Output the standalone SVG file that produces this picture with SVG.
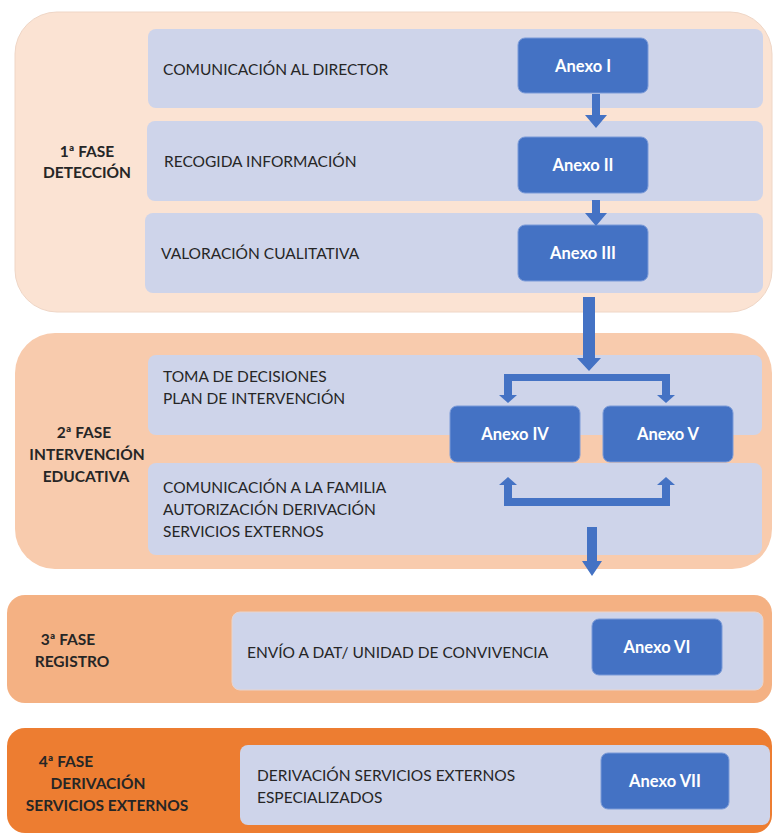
<svg xmlns="http://www.w3.org/2000/svg" width="774" height="833" viewBox="0 0 774 833">
<style>
.bar{fill:#CED4EA;}
.anx{fill:#4472C4;stroke:#7A9AD8;stroke-width:1;}
.anxt{font-family:Lato,"Liberation Sans",sans-serif;font-weight:bold;font-size:16.5px;fill:#FFFFFF;text-anchor:middle;}
.rowt{font-family:Lato,"Liberation Sans",sans-serif;font-size:15.5px;fill:#262626;}
.phase{font-family:Lato,"Liberation Sans",sans-serif;font-weight:bold;font-size:15.5px;fill:#262626;text-anchor:middle;}
.arr{fill:#4472C4;}
</style>
<rect width="774" height="833" fill="#FFFFFF"/>
<g id="phase1">
<rect x="15" y="12" width="757" height="300" rx="42" fill="#FBE3D3" stroke="#EFD6C6" stroke-width="1"/>
<text class="phase" x="87" y="157">1ª FASE</text>
<text class="phase" x="87" y="178">DETECCIÓN</text>
</g>
<g id="row1"><rect class="bar" x="148" y="29" width="615" height="79" rx="8"/><text class="rowt" x="163" y="75">COMUNICACIÓN AL DIRECTOR</text></g>
<g id="row2"><rect class="bar" x="147" y="121" width="616" height="80" rx="8"/><text class="rowt" x="164" y="167">RECOGIDA INFORMACIÓN</text></g>
<g id="row3"><rect class="bar" x="145" y="213" width="618" height="80" rx="8"/><text class="rowt" x="161" y="259">VALORACIÓN CUALITATIVA</text></g>
<g id="anexo1"><rect class="anx" x="518" y="38" width="130" height="55" rx="7"/><text class="anxt" x="583" y="72">Anexo I</text></g>
<g id="anexo2"><rect class="anx" x="518" y="137" width="130" height="56" rx="7"/><text class="anxt" x="583" y="171">Anexo II</text></g>
<g id="anexo3"><rect class="anx" x="518" y="225" width="130" height="56" rx="7"/><text class="anxt" x="583" y="259">Anexo III</text></g>

<g id="phase2">
<rect x="15" y="333" width="757" height="236" rx="40" fill="#F8CBAD"/>
<text class="phase" x="84" y="438">2ª FASE</text>
<text class="phase" x="87" y="460">INTERVENCIÓN</text>
<text class="phase" x="86" y="482">EDUCATIVA</text>
</g>
<g id="row4"><rect class="bar" x="148" y="355" width="614" height="80" rx="8"/>
<text class="rowt" x="163" y="382">TOMA DE DECISIONES</text><text class="rowt" x="163" y="404">PLAN DE INTERVENCIÓN</text></g>
<g id="row5"><rect class="bar" x="148" y="463" width="614" height="92" rx="8"/>
<text class="rowt" x="163" y="493">COMUNICACIÓN A LA FAMILIA</text><text class="rowt" x="163" y="515">AUTORIZACIÓN DERIVACIÓN</text><text class="rowt" x="163" y="537">SERVICIOS EXTERNOS</text></g>
<g id="anexo4"><rect class="anx" x="450" y="406" width="130" height="56" rx="7"/><text class="anxt" x="515" y="440">Anexo IV</text></g>
<g id="anexo5"><rect class="anx" x="603" y="406" width="130" height="56" rx="7"/><text class="anxt" x="668" y="440">Anexo V</text></g>

<g id="phase3">
<rect x="7" y="595" width="765" height="108" rx="18" fill="#F4B183"/>
<text class="phase" x="68" y="645">3ª FASE</text>
<text class="phase" x="72" y="667">REGISTRO</text>
</g>
<g id="row6"><rect class="bar" x="232" y="612" width="531" height="78" rx="8" stroke="#E9D4CC" stroke-width="1"/>
<text class="rowt" x="247" y="658">ENVÍO A DAT/ UNIDAD DE CONVIVENCIA</text></g>
<g id="anexo6"><rect class="anx" x="592" y="619" width="130" height="56" rx="7"/><text class="anxt" x="657" y="653">Anexo VI</text></g>

<g id="phase4">
<rect x="7" y="728" width="765" height="105" rx="18" fill="#ED7D31"/>
<text class="phase" x="66" y="767">4ª FASE</text>
<text class="phase" x="98" y="789">DERIVACIÓN</text>
<text class="phase" x="107" y="811">SERVICIOS EXTERNOS</text>
</g>
<g id="row7"><rect class="bar" x="240" y="745" width="530" height="80" rx="8"/>
<text class="rowt" x="257" y="781">DERIVACIÓN SERVICIOS EXTERNOS</text><text class="rowt" x="257" y="803">ESPECIALIZADOS</text></g>
<g id="anexo7"><rect class="anx" x="601" y="753" width="128" height="56" rx="7"/><text class="anxt" x="665" y="787">Anexo VII</text></g>

<g id="connectors">
<path class="arr" d="M592,94 H600 V115 H607 L596,128 L585,115 H592 Z"/>
<path class="arr" d="M592,200 H600 V213 H607 L596,226 L585,213 H592 Z"/>
<path class="arr" d="M583,297 H595 V358 H601 L589,371 L577,358 H583 Z"/>
<path class="arr" d="M504,374 H670 V395 H675 L666,403 L657,395 H662 V381 H512 V395 H517 L508,403 L499,395 H504 Z"/>
<path class="arr" d="M504,506 H670 V485 H675 L666,477 L657,485 H662 V498 H512 V485 H517 L508,477 L499,485 H504 Z"/>
<path class="arr" d="M587,527 H597 V561 H602 L592,576 L582,561 H587 Z"/>
</g>
</svg>
